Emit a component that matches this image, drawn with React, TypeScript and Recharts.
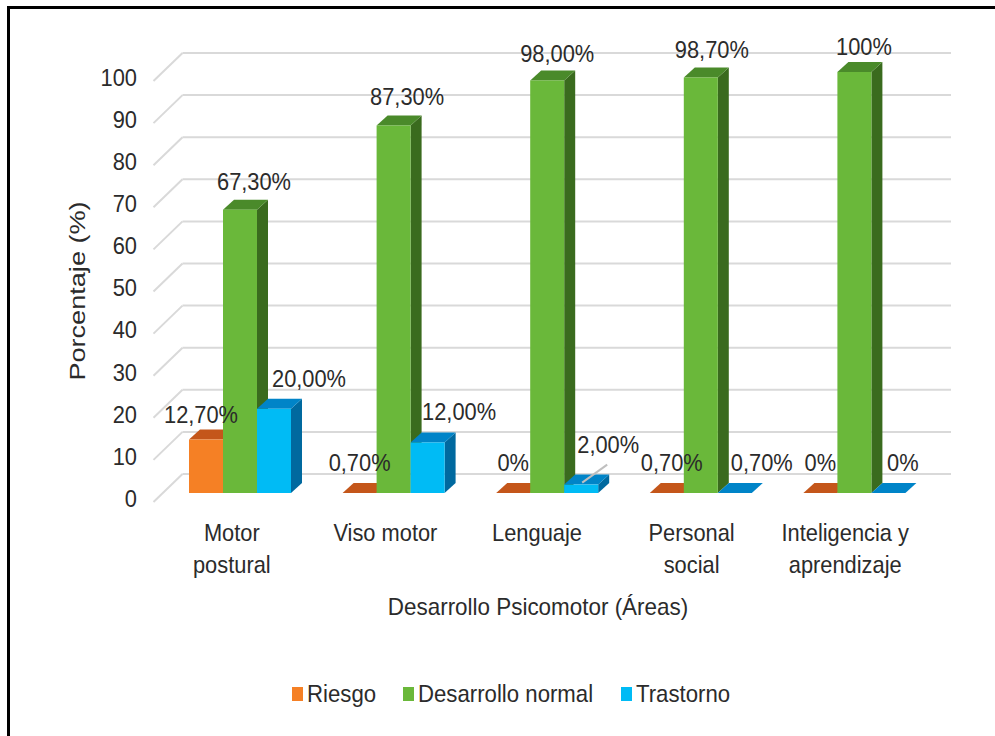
import { BarChart, Bar, XAxis, YAxis, CartesianGrid, Legend, LabelList } from "recharts";

const categories = ["Motor postural", "Viso motor", "Lenguaje", "Personal social", "Inteligencia y aprendizaje"];
const riesgo = [12.7, 0.7, 0, 0.7, 0];
const normal = [67.3, 87.3, 98, 98.7, 100];
const trastorno = [20, 12, 2, 0.7, 0];
const yTicks = [0, 10, 20, 30, 40, 50, 60, 70, 80, 90, 100];

// wrapped category labels as they appear under the axis
const categoryLines = [["Motor", "postural"], ["Viso motor"], ["Lenguaje"], ["Personal", "social"], ["Inteligencia y", "aprendizaje"]];
const tickShift = [-8, -8, -10, -9, -9];

// label nudges [dx, dy] from the top-centre of each bar
const riesgoNudge = [[-5, -25], [0, -27], [0, -30], [5, -27], [0, -30]];
const normalNudge = [[14, -28], [13.5, -28.5], [10, -27], [11, -27.5], [9.5, -25]];
const trastornoNudge = [[35, -30], [31.5, -30.5], [27, -40], [27, -27], [14.5, -30]];

const data = categories.map((name, i) => ({
  name,
  riesgo: riesgo[i],
  normal: normal[i],
  trastorno: trastorno[i],
}));

const FONT = "'Liberation Sans', Arial, sans-serif";
const TEXT = "#2b2b2b";
const DEPTH_X = 11;
const DEPTH_Y = 10;

const fmt = (v: number) =>
  v === 0 || v === 100 ? `${v}%` : `${v.toFixed(2).replace(".", ",")}%`;

// the reference is stretched vertically, so text gets squeezed horizontally
function Txt({ x, y, children, anchor = "middle", rotate = 0, sx = 0.91, sy = 1 }: any) {
  return (
    <text
      transform={`translate(${x},${y}) rotate(${rotate}) scale(${sx},${sy})`}
      textAnchor={anchor}
      dominantBaseline="central"
      fontFamily={FONT}
      fontSize={24}
      fill={TEXT}
    >
      {children}
    </text>
  );
}

const bar3d = (top: string, side: string) => (props: any) => {
  const { x, width, fill } = props;
  // sub-1% bars show as a flat top face on the floor in the source chart
  const flat = props.height < 4;
  const height = flat ? 0 : props.height;
  const y = flat ? props.y + props.height : props.y;
  return (
    <g>
      <polygon
        points={`${x + width},${y} ${x + width + DEPTH_X},${y - DEPTH_Y} ${x + width + DEPTH_X},${y + height - DEPTH_Y} ${x + width},${y + height}`}
        fill={side}
      />
      <polygon
        points={`${x},${y} ${x + DEPTH_X},${y - DEPTH_Y} ${x + width + DEPTH_X},${y - DEPTH_Y} ${x + width},${y}`}
        fill={top}
      />
      <rect x={x} y={y} width={width} height={height} fill={fill} />
    </g>
  );
};

const barLabel = (values: number[], nudge: number[][], leaderAt = -1) => (props: any) => {
  const { x, y, width, index } = props;
  const cx = x + width / 2;
  const [dx, dy] = nudge[index];
  return (
    <g>
      {index === leaderAt && (
        <line x1={cx + 1} y1={y - 2} x2={cx + 26} y2={y - 20} stroke="#bfbfbf" strokeWidth={2} />
      )}
      <Txt x={cx + dx} y={y + dy}>{fmt(values[index])}</Txt>
    </g>
  );
};

function GridLine(props: any) {
  const { x1, x2, y1, key } = props;
  const back = y1 - 19;
  return (
    <g key={key}>
      <line x1={x1 - 9.5} y1={y1 + 9} x2={x1 + 19.5} y2={back} stroke="#d9d9d9" strokeWidth={2} />
      <line x1={x1 + 19.5} y1={back} x2={x2 + 20} y2={back} stroke="#d9d9d9" strokeWidth={2} />
    </g>
  );
}

function CategoryTick({ x, y, index }: any) {
  const lines = categoryLines[index];
  return (
    <g>
      {lines.map((line, i) => (
        <Txt key={line} x={x + tickShift[index]} y={y + 32 + i * 32}>{line}</Txt>
      ))}
    </g>
  );
}

function ValueTick({ x, y, payload }: any) {
  return <Txt x={137} y={y + 5.5} anchor="end">{payload.value}</Txt>;
}

function LegendRow({ payload }: any) {
  const slots = [292, 403, 621];
  return (
    <svg width={995} height={40} style={{ display: "block" }}>
      {(payload || []).map((entry: any, i: number) => (
        <g key={entry.value}>
          <rect x={slots[i]} y={7} width={11} height={14} fill={entry.color} />
          <Txt x={slots[i] + 15} y={14} anchor="start" sx={0.925}>{entry.value}</Txt>
        </g>
      ))}
    </svg>
  );
}

export default function App() {
  return (
    <div style={{ position: "absolute", left: 0, top: 0, width: 995, height: 736, background: "#fff", overflow: "hidden" }}>
      <BarChart
        width={995}
        height={736}
        data={data}
        barSize={34}
        barGap={0}
        margin={{ top: 72, right: 64, bottom: 143, left: 103 }}
      >
        <CartesianGrid vertical={false} horizontal={GridLine as any} />
        <XAxis
          dataKey="name"
          interval={0}
          height={100}
          axisLine={false}
          tickLine={false}
          tick={CategoryTick as any}
          label={() => <Txt x={538} y={607} sx={0.935}>Desarrollo Psicomotor (Áreas)</Txt>}
        />
        <YAxis
          domain={[0, 100]}
          ticks={yTicks}
          width={60}
          axisLine={false}
          tickLine={false}
          tick={ValueTick as any}
          label={() => <Txt x={78} y={291} rotate={-90} sx={1.13} sy={0.9}>Porcentaje (%)</Txt>}
        />
        <Legend
          layout="horizontal"
          verticalAlign="middle"
          align="center"
          itemSorter={null}
          content={LegendRow as any}
          wrapperStyle={{ left: 0, top: 680, width: 995 }}
        />
        <Bar dataKey="riesgo" name="Riesgo" fill="#F58025" isAnimationActive={false} shape={bar3d("#C4561A", "#A9480F")}>
          <LabelList content={barLabel(riesgo, riesgoNudge) as any} />
        </Bar>
        <Bar dataKey="normal" name="Desarrollo normal" fill="#6AB83A" isAnimationActive={false} shape={bar3d("#4A8A2A", "#3A6B1E")}>
          <LabelList content={barLabel(normal, normalNudge) as any} />
        </Bar>
        <Bar dataKey="trastorno" name="Trastorno" fill="#00BBF5" isAnimationActive={false} shape={bar3d("#0084C8", "#00699F")}>
          <LabelList content={barLabel(trastorno, trastornoNudge, 2) as any} />
        </Bar>
      </BarChart>
      <div style={{ position: "absolute", left: 7, top: 6, right: 0, bottom: 0, borderLeft: "3px solid #000", borderTop: "3px solid #000", pointerEvents: "none" }} />
    </div>
  );
}
